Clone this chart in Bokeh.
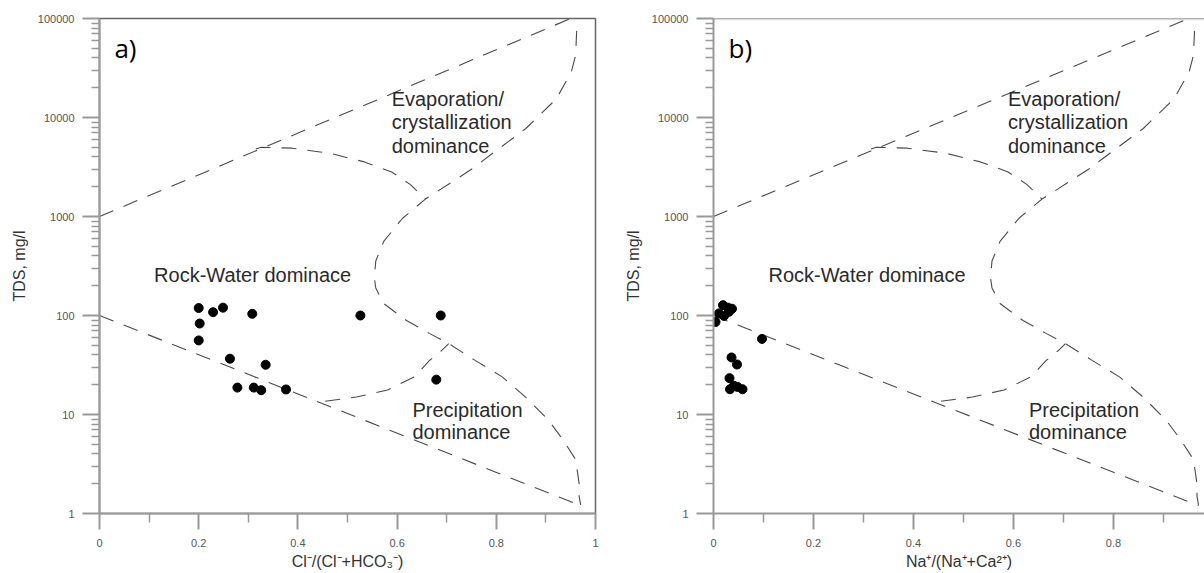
from bokeh.plotting import figure
from bokeh.models import Range1d, FixedTicker, NumeralTickFormatter, Label, Span
from bokeh.layouts import row
from bokeh.embed import file_html
from bokeh.resources import INLINE

# ---------------- data ----------------
# Gibbs boundary curves (same in both panels): x ratio, TDS mg/l
upper_x = [0.0, 0.95]
upper_tds = [1000, 100000]

lower_x = [0.0, 0.97]
lower_tds = [100, 1.2]

outer_x = [0.962, 0.960, 0.951, 0.921, 0.859, 0.804, 0.750, 0.689, 0.657, 0.611,
           0.573, 0.557, 0.554, 0.557, 0.573, 0.619, 0.665, 0.704, 0.758, 0.812,
           0.859, 0.905, 0.935, 0.960, 0.967, 0.967, 0.970]
outer_tds = [75000, 42600, 28700, 15400, 7700, 4800, 3000, 1900, 1500, 960,
             560, 355, 240, 190, 132, 89, 66, 52, 35, 24,
             15, 8.8, 5.5, 3.5, 2.0, 1.5, 1.22]

dome_top_x = [0.315, 0.326, 0.388, 0.465, 0.534, 0.589, 0.627, 0.657]
dome_top_tds = [4800, 5000, 4900, 4350, 3560, 2820, 2100, 1500]

dome_bot_x = [0.455, 0.518, 0.581, 0.635, 0.665, 0.689, 0.704]
dome_bot_tds = [13.6, 15.0, 17.7, 24.0, 35.0, 44.0, 52.0]

# samples, panel a: Cl/(Cl+HCO3)
cl_ratio = [0.200, 0.229, 0.249, 0.202, 0.200, 0.308, 0.526, 0.688, 0.263, 0.335,
            0.278, 0.311, 0.326, 0.376, 0.679]
tds_a = [119, 108, 120, 83, 56, 104, 100, 100, 36.6, 31.8, 18.7, 18.7, 17.6, 17.9, 22.5]

# samples, panel b: Na/(Na+Ca)
na_ratio = [0.019, 0.029, 0.037, 0.011, 0.021, 0.031, 0.004, 0.097, 0.036, 0.047,
            0.032, 0.033, 0.041, 0.048, 0.058]
tds_b = [127, 120, 117, 105, 99, 109, 86, 58, 37.7, 32, 23.3, 18, 19.5, 19, 18]

x_ticks = [0, 0.2, 0.4, 0.6, 0.8, 1.0]
x_minor = [0.1, 0.3, 0.5, 0.7, 0.9]
y_ticks = [1, 10, 100, 1000, 10000, 100000]
y_minor = [m * d for d in [1, 10, 100, 1000, 10000] for m in range(2, 10)]

FONT = "Liberation Sans"
DASH = "15 11"
LINE_COLOR = "#4a4a4a"


def make_panel(xs, ys, tag, xlabel, width, x_end, border_right, outline):
    p = figure(width=width, height=572, x_range=Range1d(0, x_end),
               y_range=Range1d(1, 100000), y_axis_type="log",
               output_backend="svg", toolbar_location=None,
               min_border_left=99, min_border_right=border_right,
               min_border_top=18, min_border_bottom=10)
    p.xgrid.visible = False
    p.ygrid.visible = False
    p.background_fill_color = "white"
    p.border_fill_color = "white"
    if outline:
        p.outline_line_color = "#666666"
        p.outline_line_width = 1.5
    else:
        p.outline_line_color = None
        p.add_layout(Span(location=100000, dimension="width",
                          line_color="#666666", line_width=1.5))

    for ax in (p.xaxis[0], p.yaxis[0]):
        ax.axis_line_color = "#999999"
        ax.axis_line_width = 2
        ax.major_tick_line_color = "#999999"
        ax.minor_tick_line_color = "#999999"
        ax.major_tick_line_width = 2
        ax.minor_tick_line_width = 1.5
        ax.major_tick_in = 0
        ax.minor_tick_in = 0
        ax.major_label_text_font = FONT
        ax.major_label_text_font_size = "11px"
        ax.major_label_text_color = "#555555"
        ax.axis_label_text_font = FONT
        ax.axis_label_text_font_style = "normal"
        ax.axis_label_text_font_size = "16px"
        ax.axis_label_text_color = "#333333"

    xa = p.xaxis[0]
    xa.ticker = FixedTicker(ticks=x_ticks, minor_ticks=x_minor)
    xa.formatter = NumeralTickFormatter(format="0.[0]")
    xa.major_tick_out = 16
    xa.minor_tick_out = 9
    xa.major_label_standoff = 9
    xa.axis_label = xlabel
    xa.axis_label_standoff = 3

    ya = p.yaxis[0]
    ya.ticker = FixedTicker(ticks=y_ticks, minor_ticks=y_minor)
    ya.formatter = NumeralTickFormatter(format="0")
    ya.major_tick_out = 17
    ya.minor_tick_out = 8
    ya.major_label_standoff = 8
    ya.axis_label = "TDS, mg/l"
    ya.axis_label_standoff = 7

    dash_kw = dict(line_color=LINE_COLOR, line_width=1.1, line_dash=DASH)
    p.line(upper_x, upper_tds, **dash_kw)
    p.line(lower_x, lower_tds, **dash_kw)
    p.line(outer_x, outer_tds, **dash_kw)
    p.line(dome_top_x, dome_top_tds, **dash_kw)
    p.line(dome_bot_x, dome_bot_tds, **dash_kw)

    p.scatter(xs, ys, size=9, color="black")

    txt = dict(text_font=FONT, text_font_size="20px", text_color="#2a2a2a",
               text_baseline="middle", text_align="left")
    p.add_layout(Label(x=0.589, y=15500, text="Evaporation/", **txt))
    p.add_layout(Label(x=0.589, y=9100, text="crystallization", **txt))
    p.add_layout(Label(x=0.589, y=5100, text="dominance", **txt))
    p.add_layout(Label(x=0.11, y=255, text="Rock-Water dominace", **txt))
    p.add_layout(Label(x=0.631, y=11.2, text="Precipitation", **txt))
    p.add_layout(Label(x=0.631, y=6.6, text="dominance", **txt))
    p.add_layout(Label(x=0.03, y=50000, text=tag, text_font="Open Sans",
                       text_font_size="26px", text_color="black",
                       text_baseline="middle", text_align="left"))
    return p


pa = make_panel(cl_ratio, tds_a, "a)", "Cl\u207b/(Cl\u207b+HCO\u2083\u207b)",
                614, 1.0, 19, True)
pb = make_panel(na_ratio, tds_b, "b)", "Na\u207a/(Na\u207a+Ca\u00b2\u207a)",
                590, 0.982, 0, False)

layout = row(pa, pb)
open("out.html", "w").write(file_html(layout, INLINE))
